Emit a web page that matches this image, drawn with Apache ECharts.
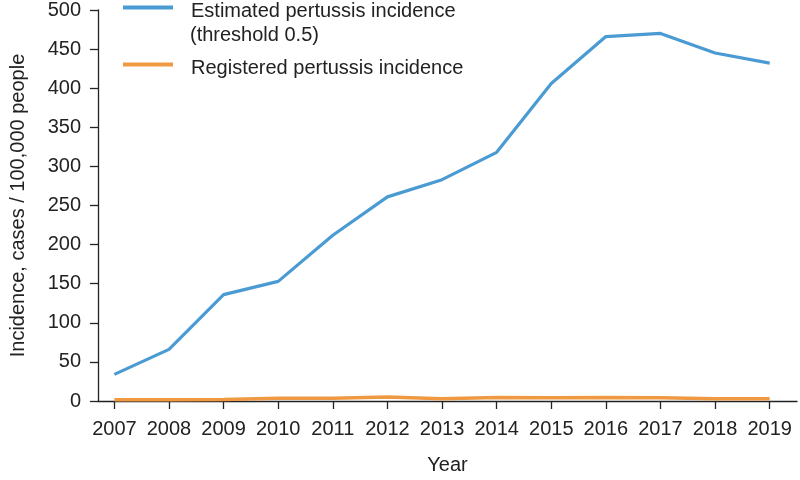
<!DOCTYPE html>
<html>
<head>
<meta charset="utf-8">
<script src="https://cdn.jsdelivr.net/npm/echarts@6/dist/echarts.min.js"></script>
<style>
html,body{margin:0;padding:0;background:#fff;}
#chart{width:800px;height:480px;}
</style>
</head>
<body>
<div id="chart"></div>
<script>
const years = [2007, 2008, 2009, 2010, 2011, 2012, 2013, 2014, 2015, 2016, 2017, 2018, 2019];
const estimated = [34, 66, 136, 153, 212, 261, 283, 318, 406, 466, 470, 445, 432];
const registered = [1.5, 1.5, 2, 3.5, 3.5, 5, 3, 4.5, 4, 4.5, 4, 3, 3];
const yTicks = [0, 50, 100, 150, 200, 250, 300, 350, 400, 450, 500];
const seriesNames = ['Estimated pertussis incidence\n(threshold 0.5)', 'Registered pertussis incidence'];
const colors = ['#4a9bd3', '#ef9a43'];

const FONT = 'Liberation Sans';
const FS = 20;
const pairs = (vals) => years.map((y, i) => [y, vals[i]]);

const chart = echarts.init(document.getElementById('chart'), null, {renderer: 'canvas'});
chart.setOption({
  animation: false,
  backgroundColor: '#ffffff',
  textStyle: {fontFamily: FONT},
  grid: {left: 95, right: 3, top: 7, bottom: 77, containLabel: false},
  legend: {
    orient: 'vertical',
    left: 123,
    top: -6,
    padding: 0,
    itemGap: 30,
    icon: 'rect',
    itemWidth: 50,
    itemHeight: 4,
    formatter: (name) => '{t|' + name.split('\n')[0] + '}',
    textStyle: {
      fontFamily: FONT, fontSize: FS, color: '#222', lineHeight: 24, padding: [0, 0, 0, 13],
      rich: {t: {fontFamily: FONT, fontSize: FS, color: '#222', lineHeight: 24, padding: [7, 0, 0, 0]}}
    },
    data: seriesNames
  },
  graphic: [{
    type: 'text',
    left: 190,
    top: 25,
    silent: true,
    style: {text: seriesNames[0].split('\n')[1], fontFamily: FONT, fontSize: FS, fill: '#222'}
  }],
  xAxis: {
    type: 'value',
    min: 2006.7,
    max: 2019.5,
    name: 'Year',
    nameLocation: 'middle',
    nameGap: 54,
    nameTextStyle: {fontFamily: FONT, fontSize: FS, color: '#222'},
    splitLine: {show: false},
    axisLine: {show: true, onZero: false, lineStyle: {color: '#222', width: 1.3}},
    axisTick: {show: true, length: 8, lineStyle: {color: '#222', width: 1.3}, customValues: years},
    axisLabel: {fontFamily: FONT, fontSize: FS, color: '#222', margin: 18, customValues: years,
      formatter: (v) => String(v)}
  },
  yAxis: {
    type: 'value',
    min: 0,
    max: 500,
    interval: 50,
    name: 'Incidence, cases / 100,000 people',
    nameLocation: 'middle',
    nameGap: 70,
    nameTextStyle: {fontFamily: FONT, fontSize: FS, color: '#222'},
    splitLine: {show: false},
    axisLine: {show: true, lineStyle: {color: '#222', width: 1.3}},
    axisTick: {show: true, length: 8, lineStyle: {color: '#222', width: 1.3}, customValues: yTicks},
    axisLabel: {fontFamily: FONT, fontSize: FS, color: '#222', margin: 17, customValues: yTicks}
  },
  series: [
    {
      name: seriesNames[0], type: 'line', data: pairs(estimated),
      showSymbol: false, symbol: 'none', color: colors[0],
      lineStyle: {width: 3.2, color: colors[0]}
    },
    {
      name: seriesNames[1], type: 'line', data: pairs(registered),
      showSymbol: false, symbol: 'none', color: colors[1],
      lineStyle: {width: 3.5, color: colors[1]}
    }
  ]
});
</script>
</body>
</html>
